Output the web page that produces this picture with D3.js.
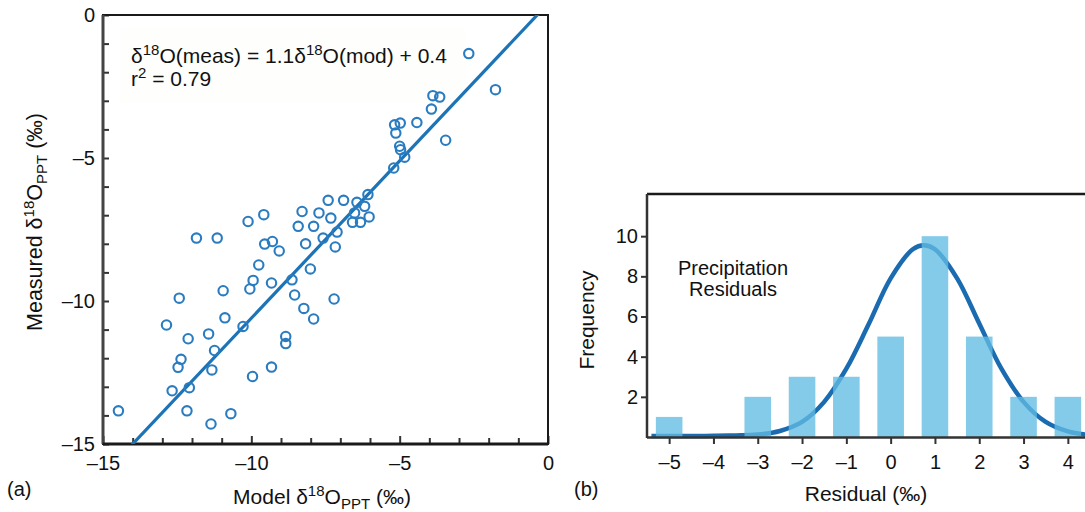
<!DOCTYPE html>
<html><head><meta charset="utf-8">
<script src="https://cdn.jsdelivr.net/npm/d3@7"></script>
<style>
body{margin:0;background:#fff}
svg{display:block}
text{font-family:"Liberation Sans",Arial,Helvetica,sans-serif;fill:#111}
</style>
</head><body>
<svg id="c" width="1085" height="512"></svg>
<script>
// ---------- Panel (a) data: model vs measured d18O of precipitation ----------
const modelX = [
  -11.85,-11.15,-10.95,-12.43,-12.86,-10.89,-12.13,-11.44,-11.24,-12.37,
  -12.47,-11.33,-12.67,-12.09,-14.48,-12.17,-10.69,-11.36,
  -7.41,-6.89,-10.11,-9.58,-8.29,-7.72,-7.32,-8.42,-7.90,-7.11,
  -7.58,-9.55,-9.29,-9.06,-8.17,-7.17,-9.75,-8.01,-9.94,-10.05,
  -9.32,-8.63,-8.54,-7.21,-8.23,-7.90,-10.28,-8.84,-8.84,-9.32,-9.96,
  -6.44,-6.07,-6.18,-6.52,-6.03,-6.59,-6.32,
  -2.67,-1.77,-3.88,-3.65,-3.93,-5.17,-4.98,-5.13,-4.42,-3.45,
  -5.00,-4.97,-4.83,-5.20
];
const measuredY = [
  -7.80,-7.80,-9.64,-9.90,-10.84,-10.59,-11.32,-11.15,-11.73,-12.04,
  -12.32,-12.41,-13.14,-13.03,-13.84,-13.84,-13.94,-14.30,
  -6.48,-6.48,-7.22,-6.98,-6.87,-6.92,-7.10,-7.39,-7.39,-7.59,
  -7.80,-8.01,-7.92,-8.25,-8.00,-8.11,-8.74,-8.88,-9.28,-9.58,
  -9.37,-9.26,-9.79,-9.93,-10.26,-10.63,-10.89,-11.24,-11.49,-12.31,-12.64,
  -6.55,-6.28,-6.69,-6.92,-7.06,-7.25,-7.25,
  -1.35,-2.61,-2.82,-2.87,-3.29,-3.84,-3.78,-4.13,-3.76,-4.38,
  -4.59,-4.71,-4.97,-5.35
];
const fitSlope = 1.1;       // from the printed equation
const fitIntercept = 0.4;
const aXTicks = [-15, -10, -5, 0];
const aYTicks = [0, -5, -10, -15];

// ---------- Panel (b) data: residual histogram ----------
const residualBins = [-5, -4, -3, -2, -1, 0, 1, 2, 3, 4];
const residualFreq = [1, 0, 2, 3, 3, 5, 10, 5, 2, 2];
// fitted curve
const curveX = [-5.4,-5,-4.5,-4,-3.5,-3,-2.5,-2,-1.5,-1,-0.5,0,0.5,0.75,1,1.5,2,2.5,3,3.5,4,4.5];
const curveY = [0.05,0.05,0.05,0.06,0.08,0.12,0.3,0.75,1.75,3.4,5.6,7.9,9.35,9.55,9.35,7.9,5.65,3.4,1.75,0.75,0.28,0.1];
const bXTicks = [-5, -4, -3, -2, -1, 0, 1, 2, 3, 4];
const bYTicks = [2, 4, 6, 8, 10];

const dash = d => (d < 0 ? "\u2013" + Math.abs(d) : String(d));
const svg = d3.select("#c");
svg.append("rect").attr("width",1085).attr("height",512).attr("fill","#fff");

// ================= Panel (a) =================
const xA = d3.scaleLinear().domain([-15, 0]).range([103, 548]);
const yA = d3.scaleLinear().domain([-15, 0]).range([444, 15]);
const gA = svg.append("g");

gA.append("rect").attr("x",120).attr("y",28).attr("width",345).attr("height",75).attr("fill","#fefefc");

gA.append("clipPath").attr("id","clipA").append("rect")
  .attr("x", xA(-15)).attr("y", yA(0)).attr("width", xA(0)-xA(-15)).attr("height", yA(-15)-yA(0));

// minor + major ticks (inward)
const axBot = gA.append("g").attr("transform",`translate(0,${yA(-15)})`)
  .call(d3.axisBottom(xA).tickValues(d3.range(-15, 1)).tickSize(-6).tickPadding(12)
    .tickFormat(d => aXTicks.includes(d) ? dash(d) : ""));
const axLeft = gA.append("g").attr("transform",`translate(${xA(-15)},0)`)
  .call(d3.axisLeft(yA).tickValues(d3.range(-15, 1)).tickSize(-6).tickPadding(8)
    .tickFormat(d => aYTicks.includes(d) ? dash(d) : ""));
[axBot, axLeft].forEach(a => {
  a.select(".domain").remove();
  a.selectAll(".tick line").attr("stroke","#333").attr("stroke-width",2);
  a.selectAll("text").attr("font-size",20).attr("fill","#111")
    .attr("font-family","'Liberation Sans',Arial,sans-serif");
});
axBot.selectAll(".tick").filter(d => d === 0).select("text")
  .attr("font-family","'Liberation Serif','Times New Roman',serif");
axBot.selectAll(".tick").filter(d => aXTicks.includes(d)).select("line").attr("y2",-8);

// frame
gA.append("rect").attr("x", xA(-15)).attr("y", yA(0))
  .attr("width", xA(0)-xA(-15)).attr("height", yA(-15)-yA(0))
  .attr("fill","none").attr("stroke","#1a1a1a").attr("stroke-width",2);
gA.append("line").attr("x1",xA(-15)).attr("x2",xA(-15)).attr("y1",yA(0)).attr("y2",yA(-15))
  .attr("stroke","#444").attr("stroke-width",3);
gA.append("line").attr("x1",xA(-15)).attr("x2",xA(0)).attr("y1",yA(-15)).attr("y2",yA(-15))
  .attr("stroke","#1a1a1a").attr("stroke-width",3);

// regression line
const fitX = [-15, 0];
gA.append("path").attr("clip-path","url(#clipA)")
  .datum(fitX)
  .attr("d", d3.line().x(d => xA(d)).y(d => yA(fitSlope*d + fitIntercept)))
  .attr("stroke","#1c73b6").attr("stroke-width",3.2).attr("fill","none");

// points
gA.selectAll("circle.pt").data(modelX).join("circle").attr("class","pt")
  .attr("cx", d => xA(d)).attr("cy", (d,i) => yA(measuredY[i])).attr("r",4.7)
  .attr("fill","none").attr("stroke","#2a7cc0").attr("stroke-width",2.1);

// equation
const eq = gA.append("text").attr("x",131).attr("y",63).attr("font-size",21);
eq.append("tspan").text("\u03b4");
eq.append("tspan").attr("font-size",15).attr("dy",-8).text("18");
eq.append("tspan").attr("dy",8).text("O(meas) = 1.1\u03b4");
eq.append("tspan").attr("font-size",15).attr("dy",-8).text("18");
eq.append("tspan").attr("dy",8).text("O(mod) + 0.4");
const r2 = gA.append("text").attr("x",131).attr("y",86).attr("font-size",21);
r2.append("tspan").text("r");
r2.append("tspan").attr("font-size",15).attr("dy",-8).text("2");
r2.append("tspan").attr("dy",8).text(" = 0.79");

// axis titles
const xt = gA.append("text").attr("x",322).attr("y",504).attr("text-anchor","middle").attr("font-size",21);
xt.append("tspan").text("Model \u03b4");
xt.append("tspan").attr("font-size",15).attr("dy",-8).text("18");
xt.append("tspan").attr("dy",8).text("O");
xt.append("tspan").attr("font-size",15).attr("dy",5).text("PPT");
xt.append("tspan").attr("dy",-5).text(" (\u2030)");

const yt = gA.append("text").attr("transform","translate(42,222) rotate(-90)")
  .attr("text-anchor","middle").attr("font-size",21.5);
yt.append("tspan").text("Measured \u03b4");
yt.append("tspan").attr("font-size",15).attr("dy",-8).text("18");
yt.append("tspan").attr("dy",8).text("O");
yt.append("tspan").attr("font-size",15).attr("dy",5).text("PPT");
yt.append("tspan").attr("dy",-5).text(" (\u2030)");

svg.append("text").attr("x",7).attr("y",496).attr("font-size",20).text("(a)");

// ================= Panel (b) =================
const xB = d3.scaleLinear().domain([-5.5, 4.5]).range([647, 1090]);
const yB = d3.scaleLinear().domain([0, 12.1]).range([437, 194]);
const gB = svg.append("g");
const barW = xB(0.3) - xB(-0.3);

gB.append("path").datum(curveX)
  .attr("d", d3.line().x(d => xB(d)).y((d,i) => yB(curveY[i])).curve(d3.curveCatmullRom))
  .attr("stroke","#1a6bb0").attr("stroke-width",4.5).attr("fill","none");

gB.selectAll("rect.bar").data(residualBins).join("rect").attr("class","bar")
  .attr("x", d => xB(d) - barW/2).attr("width", barW)
  .attr("y", (d,i) => yB(residualFreq[i])).attr("height", (d,i) => yB(0) - yB(residualFreq[i]))
  .attr("fill","#62bbe3").attr("fill-opacity",0.78);

const bBot = gB.append("g").attr("transform",`translate(0,${yB(0)})`)
  .call(d3.axisBottom(xB).tickValues(bXTicks).tickSize(7).tickPadding(11).tickFormat(dash));
const bLeft = gB.append("g").attr("transform",`translate(${xB(-5.5)},0)`)
  .call(d3.axisLeft(yB).tickValues(bYTicks).tickSize(6).tickPadding(3).tickFormat(dash));
[bBot, bLeft].forEach(a => {
  a.select(".domain").remove();
  a.selectAll(".tick line").attr("stroke","#333").attr("stroke-width",2);
  a.selectAll("text").attr("font-size",20).attr("fill","#111")
    .attr("font-family","'Liberation Sans',Arial,sans-serif");
});

gB.append("line").attr("x1",647).attr("x2",1085).attr("y1",194).attr("y2",194).attr("stroke","#1a1a1a").attr("stroke-width",2.5);
gB.append("line").attr("x1",647).attr("x2",647).attr("y1",194).attr("y2",yB(0)+1).attr("stroke","#333").attr("stroke-width",2.5);
gB.append("line").attr("x1",647).attr("x2",1085).attr("y1",yB(0)+0.5).attr("y2",yB(0)+0.5).attr("stroke","#333").attr("stroke-width",2.5);

gB.append("text").attr("x",733).attr("y",275).attr("text-anchor","middle").attr("font-size",20).text("Precipitation");
gB.append("text").attr("x",733).attr("y",296).attr("text-anchor","middle").attr("font-size",20).text("Residuals");

gB.append("text").attr("x",866).attr("y",501).attr("text-anchor","middle").attr("font-size",21).text("Residual (\u2030)");
gB.append("text").attr("transform","translate(594,320) rotate(-90)").attr("text-anchor","middle").attr("font-size",21).text("Frequency");
svg.append("text").attr("x",574).attr("y",496).attr("font-size",20).text("(b)");
</script>
</body></html>
